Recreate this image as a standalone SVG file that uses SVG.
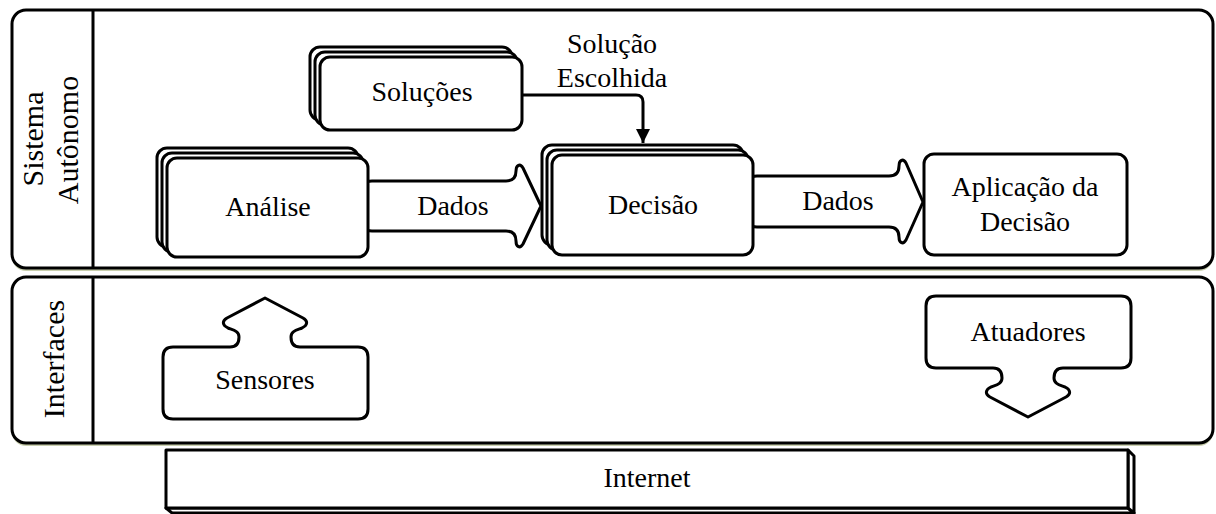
<svg xmlns="http://www.w3.org/2000/svg" width="1216" height="514" viewBox="0 0 1216 514">
  <defs>
    <style>
      .panel { fill: #ffffff; stroke: #000; stroke-width: 3; }
      .shadow { fill: #c9cfae; }
      .divider { stroke: #000; stroke-width: 3; }
      .box { fill: #ffffff; stroke: #000; stroke-width: 3; }
      .flow { fill: #ffffff; stroke: #000; stroke-width: 3; stroke-linejoin: round; }
      .link { fill: none; stroke: #000; stroke-width: 3; }
      .lbl { font-family: "Liberation Serif", "Times New Roman", serif; font-size: 28px; fill: #000; text-anchor: middle; }
      .side { font-family: "Liberation Serif", "Times New Roman", serif; font-size: 30px; fill: #000; text-anchor: middle; }
    </style>
    <marker id="ah" markerWidth="14" markerHeight="15" refX="14" refY="7" orient="auto" markerUnits="userSpaceOnUse">
      <path d="M0,0 L14,7 L0,14 Z" fill="#000"/>
    </marker>
    <!-- callout shape: body with a notched block arrow on top, origin at arrow axis / body top -->
    <path id="callout" d="M -92,0 H -35 C -28,0 -26,-5 -26,-10 C -26,-16 -32,-17 -37,-19 C -43,-22 -43,-26 -38,-29 L 0,-49 L 38,-29 C 43,-26 43,-22 37,-19 C 32,-17 26,-16 26,-10 C 26,-5 28,0 35,0 H 93 Q 103,0 103,10 V 62 Q 103,72 93,72 H -92 Q -102,72 -102,62 V 10 Q -102,0 -92,0 Z"/>
  </defs>

  <!-- layer panels -->
  <g id="panel-sistema">
    <rect class="shadow" x="12" y="13" width="1201" height="258" rx="14"/>
    <rect class="panel" x="12" y="10" width="1201" height="258" rx="14"/>
    <line class="divider" x1="93" y1="10" x2="93" y2="268"/>
    <text class="side" transform="translate(43,139) rotate(-90)">Sistema</text>
    <text class="side" transform="translate(78,140) rotate(-90)">Autônomo</text>
  </g>

  <g id="panel-interfaces">
    <rect class="shadow" x="12" y="280" width="1201" height="166" rx="14"/>
    <rect class="panel" x="12" y="277" width="1201" height="166" rx="14"/>
    <line class="divider" x1="93" y1="277" x2="93" y2="443"/>
    <text class="side" transform="translate(64,359) rotate(-90)">Interfaces</text>
  </g>

  <!-- connectors -->
  <g id="connectors">
    <path class="flow" d="M 360,191 Q 360,181 372,181 H 506 C 514,181 516,176 516,171 C 516,165 520,163 523,168 L 541,206 L 523,244 C 520,249 516,247 516,241 C 516,236 514,231 506,231 H 372 Q 360,231 360,221 Z"/>
    <text class="lbl" x="453" y="215">Dados</text>
    <path class="flow" d="M 745,186 Q 745,176 757,176 H 889 C 897,176 899,171 899,166 C 899,160 903,158 906,163 L 923,202 L 906,240 C 903,245 899,243 899,237 C 899,232 897,227 889,227 H 757 Q 745,227 745,217 Z"/>
    <text class="lbl" x="838" y="210">Dados</text>
    <path class="link" d="M 522,95 H 636 Q 643,95 643,102 V 143" marker-end="url(#ah)"/>
    <text class="lbl" x="612" y="53">Solução</text>
    <text class="lbl" x="612" y="87">Escolhida</text>
  </g>

  <!-- nodes -->
  <g id="node-solucoes">
    <rect class="box" x="310" y="47" width="202" height="73" rx="10"/>
    <rect class="box" x="315" y="52" width="202" height="73" rx="10"/>
    <rect class="box" x="320" y="57" width="202" height="73" rx="10"/>
    <text class="lbl" x="422" y="101">Soluções</text>
  </g>

  <g id="node-analise">
    <rect class="box" x="157" y="148" width="201" height="99" rx="10"/>
    <rect class="box" x="162" y="153" width="201" height="99" rx="10"/>
    <rect class="box" x="167" y="158" width="201" height="99" rx="10"/>
    <text class="lbl" x="268" y="216">Análise</text>
  </g>

  <g id="node-decisao">
    <rect class="box" x="542" y="145" width="201" height="100" rx="10"/>
    <rect class="box" x="547" y="150" width="201" height="100" rx="10"/>
    <rect class="box" x="552" y="155" width="201" height="100" rx="10"/>
    <text class="lbl" x="653" y="214">Decisão</text>
  </g>

  <g id="node-aplicacao">
    <rect class="box" x="924" y="154" width="203" height="101" rx="10"/>
    <text class="lbl" x="1025" y="196">Aplicação da</text>
    <text class="lbl" x="1025" y="231">Decisão</text>
  </g>

  <g id="node-sensores">
    <use href="#callout" class="flow" transform="translate(265,347)"/>
    <text class="lbl" x="265" y="389">Sensores</text>
  </g>

  <g id="node-atuadores">
    <use href="#callout" class="flow" transform="translate(1028,368) scale(1,-1)"/>
    <text class="lbl" x="1028" y="341">Atuadores</text>
  </g>

  <g id="node-internet">
    <polygon class="flow" points="166,508 1128,508 1134,513 172,513"/>
    <polygon class="flow" points="1128,450 1134,456 1134,513 1128,508"/>
    <rect class="flow" x="166" y="450" width="962" height="58"/>
    <text class="lbl" x="647" y="487">Internet</text>
  </g>
</svg>
